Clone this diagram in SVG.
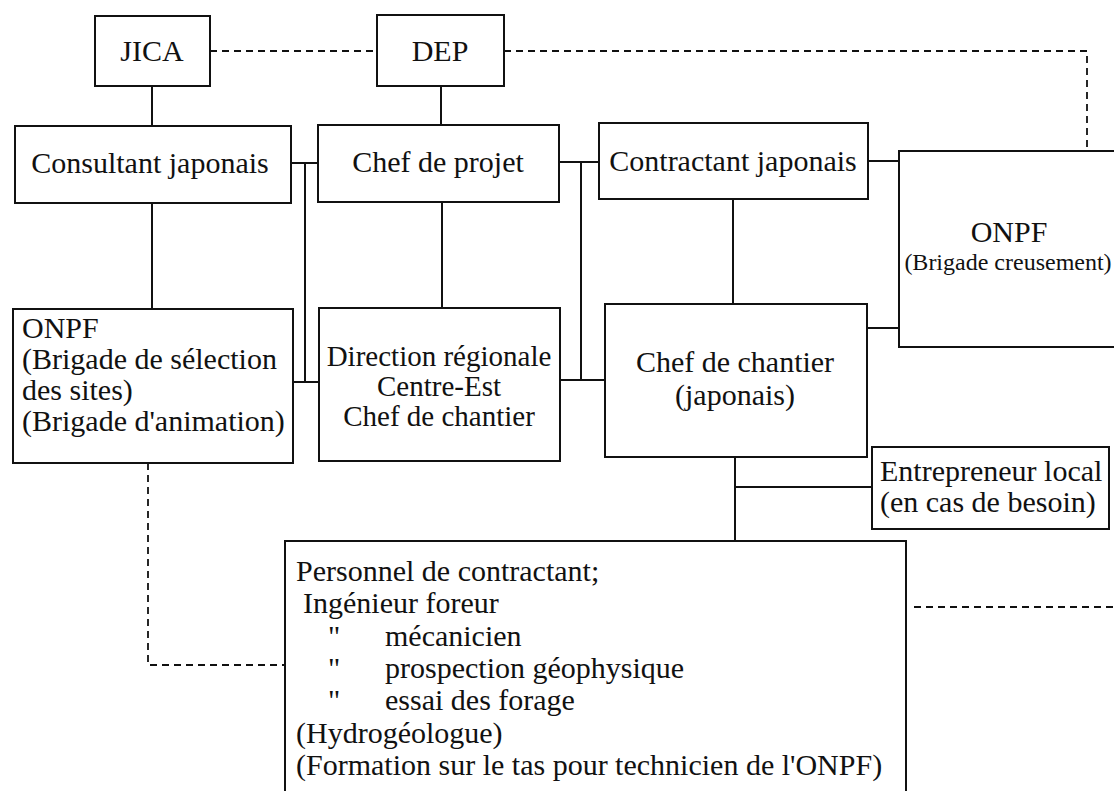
<svg xmlns="http://www.w3.org/2000/svg" width="1114" height="791" viewBox="0 0 1114 791">
<style>
.box{fill:#fff;stroke:#111;stroke-width:2}
.ln{fill:none;stroke:#111;stroke-width:2}
.dash{fill:none;stroke:#111;stroke-width:1.8;stroke-dasharray:7 5}
text{font-family:"Liberation Serif","Times New Roman",serif;font-size:30px;fill:#111}
.c{text-anchor:middle}
.s{font-size:24px}
.m{font-size:29px}
</style>
<rect width="1114" height="791" fill="#fff"/>
<g id="connectors">
<path class="ln" d="M152,86V126"/>
<path class="ln" d="M441,86V125"/>
<path class="ln" d="M291,163H318"/>
<path class="ln" d="M305,163V382"/>
<path class="ln" d="M293,382H319"/>
<path class="ln" d="M152,203V309"/>
<path class="ln" d="M442,202V308"/>
<path class="ln" d="M559,162H599"/>
<path class="ln" d="M581,162V380"/>
<path class="ln" d="M560,380H605"/>
<path class="ln" d="M733,199V304"/>
<path class="ln" d="M868,161H899"/>
<path class="ln" d="M867,328H899"/>
<path class="ln" d="M735,457V541"/>
<path class="ln" d="M735,487H872"/>
<path class="dash" d="M210,51H377"/>
<path class="dash" d="M504,51H1087V151"/>
<path class="dash" d="M148,463V665H285"/>
<path class="dash" d="M914,607H1114"/>
</g>
<g id="jica"><rect class="box" x="95" y="16" width="115" height="70"/><text class="c" x="152" y="61">JICA</text></g>
<g id="dep"><rect class="box" x="377" y="15" width="127" height="71"/><text class="c" x="440" y="61">DEP</text></g>
<g id="consultant"><rect class="box" x="15" y="126" width="276" height="77"/><text class="c" x="150" y="173">Consultant japonais</text></g>
<g id="chef-projet"><rect class="box" x="318" y="125" width="241" height="77"/><text class="c" x="438" y="172">Chef de projet</text></g>
<g id="contractant"><rect class="box" x="599" y="123" width="269" height="76"/><text class="c" x="733" y="171">Contractant japonais</text></g>
<g id="onpf-creusement"><rect class="box" x="899" y="151" width="225" height="196"/><text class="c" x="1009" y="242">ONPF</text><text class="c s" x="1008" y="270">(Brigade creusement)</text></g>
<g id="onpf-selection"><rect class="box" x="13" y="309" width="280" height="154"/>
<text x="22" y="338">ONPF</text>
<text x="22" y="369">(Brigade de sélection</text>
<text x="22" y="400">des sites)</text>
<text x="22" y="431">(Brigade d'animation)</text></g>
<g id="direction"><rect class="box" x="319" y="308" width="241" height="153"/>
<text class="c m" x="439" y="366">Direction régionale</text>
<text class="c m" x="439" y="396">Centre-Est</text>
<text class="c m" x="439" y="426">Chef de chantier</text></g>
<g id="chef-chantier"><rect class="box" x="605" y="304" width="262" height="153"/>
<text class="c" x="735" y="372">Chef de chantier</text>
<text class="c" x="735" y="405">(japonais)</text></g>
<g id="entrepreneur"><rect class="box" x="872" y="447" width="237" height="82"/>
<text x="880" y="481">Entrepreneur local</text>
<text x="880" y="512">(en cas de besoin)</text></g>
<g id="personnel"><rect class="box" x="285" y="541" width="621" height="262"/>
<text x="296" y="581">Personnel de contractant;</text>
<text x="303" y="613">Ingénieur foreur</text>
<text x="328" y="646">"</text><text x="385" y="646">mécanicien</text>
<text x="328" y="678">"</text><text x="385" y="678">prospection géophysique</text>
<text x="328" y="710">"</text><text x="385" y="710">essai des forage</text>
<text x="296" y="743">(Hydrogéologue)</text>
<text x="296" y="775">(Formation sur le tas pour technicien de l'ONPF)</text></g>
</svg>
